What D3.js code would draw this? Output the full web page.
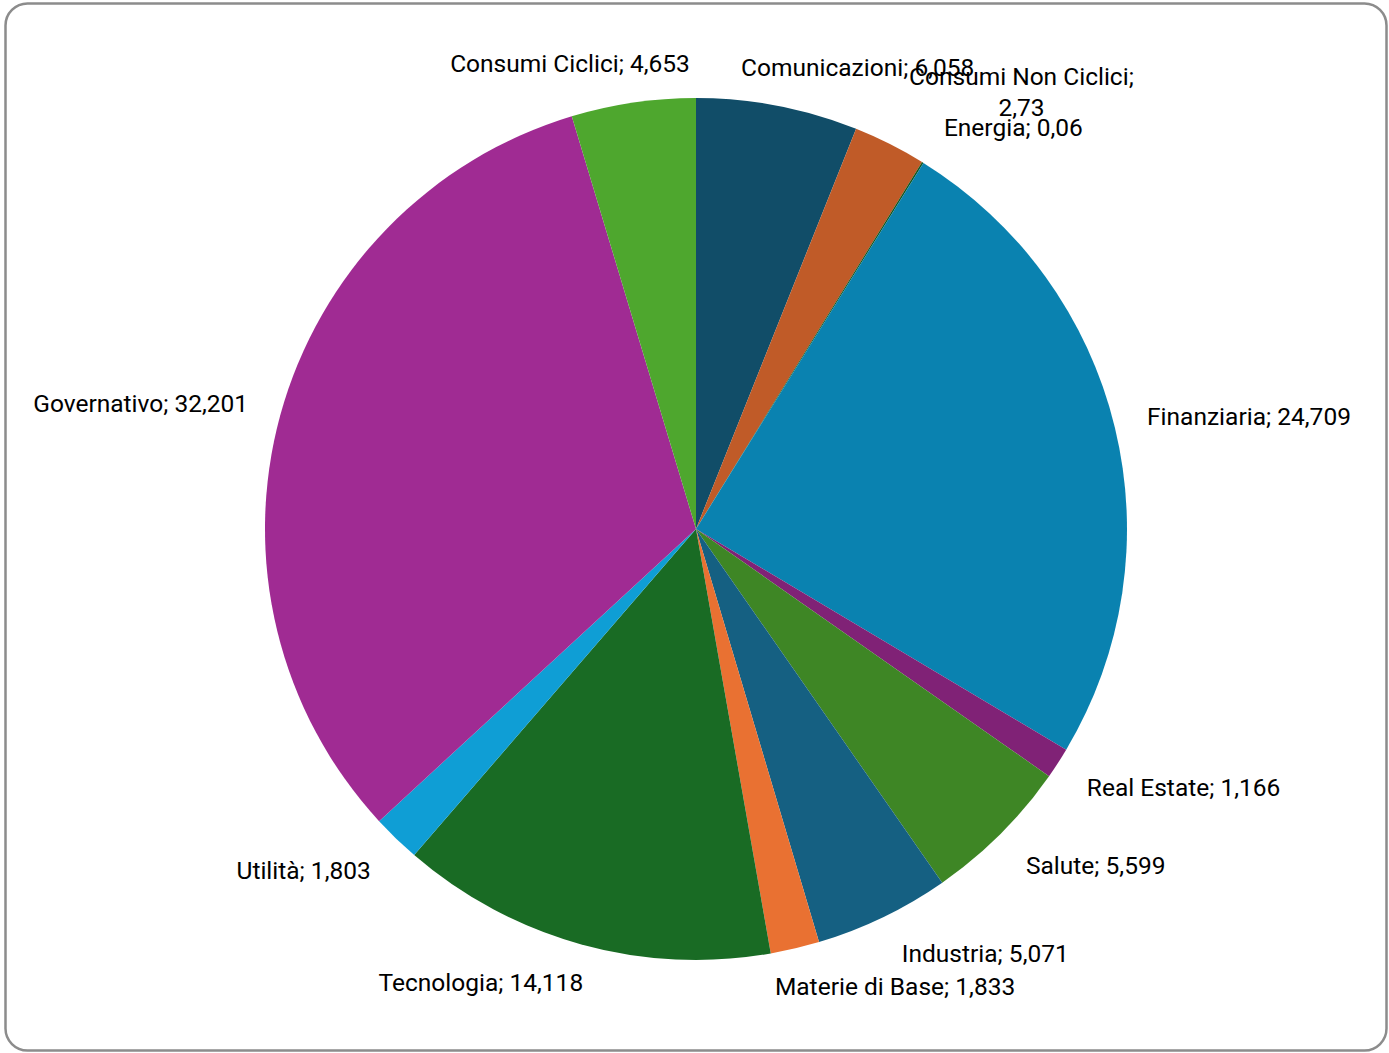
<!DOCTYPE html>
<html>
<head>
<meta charset="utf-8">
<script src="https://cdn.jsdelivr.net/npm/d3@7"></script>
<style>
  body { margin: 0; background: #ffffff; }
  .label { font-family: Roboto, "Noto Sans", sans-serif; font-size: 24.5px; fill: #000000; }
</style>
</head>
<body>
<script>
// Settori e pesi (%), in ordine orario partendo dall'alto
var sectors = ["Comunicazioni", "Consumi Non Ciclici", "Energia", "Finanziaria", "Real Estate",
  "Salute", "Industria", "Materie di Base", "Tecnologia", "Utilità", "Governativo", "Consumi Ciclici"];
var weights = [6.058, 2.73, 0.06, 24.709, 1.166, 5.599, 5.071, 1.833, 14.118, 1.803, 32.201, 4.653];
var sliceColors = ["#114d68", "#c05b28", "#14561d", "#0a82b0", "#802276", "#3e8625",
  "#156082", "#e97132", "#196b24", "#0f9ed5", "#a02b93", "#4ea72e"];

var svgWidth = 1389;
var svgHeight = 1053;

var cx = 696;
var cy = 529;
var radius = 431;

var svg = d3.select("body")
  .append("svg")
  .attr("width", svgWidth)
  .attr("height", svgHeight);

// chart area frame
svg.append("rect")
  .attr("x", 5.5)
  .attr("y", 3.5)
  .attr("width", 1381)
  .attr("height", 1047)
  .attr("rx", 22)
  .attr("ry", 22)
  .attr("fill", "#ffffff")
  .attr("stroke", "#8c8c8c")
  .attr("stroke-width", 2.5);

var chartGroup = svg.append("g")
  .attr("transform", `translate(${cx}, ${cy})`);

var pie = d3.pie()
  .sort(null)
  .value(d => d);

var arc = d3.arc()
  .innerRadius(0)
  .outerRadius(radius);

var colorScale = d3.scaleOrdinal()
  .domain(sectors)
  .range(sliceColors);

var arcs = pie(weights);

chartGroup.selectAll("path")
  .data(arcs)
  .enter()
  .append("path")
  .attr("d", arc)
  .attr("fill", (d, i) => colorScale(sectors[i]));

// italian number format (comma as decimal separator)
function fmt(v) {
  return String(v).replace(".", ",");
}

// Labels, outside end like Excel
var labelR = radius + 25;
var padX = 8;
var lineH = 31;
var maxW = 262;

function clamp(v) { return Math.max(-1, Math.min(1, v)); }

arcs.forEach(function(d, i) {
  var full = sectors[i] + "; " + fmt(weights[i]);
  var t = chartGroup.append("text").attr("class", "label");

  // measure, wrap when too wide
  t.text(full);
  var lines = [full];
  if (t.node().getComputedTextLength() > maxW) {
    lines = [sectors[i] + ";", fmt(weights[i])];
  }
  t.text(null);

  var tspans = t.selectAll("tspan")
    .data(lines)
    .enter()
    .append("tspan")
    .text(s => s);

  var w = d3.max(tspans.nodes(), n => n.getComputedTextLength()) + 2 * padX;
  var h = lines.length * lineH - 3;

  var a = (d.startAngle + d.endAngle) / 2;
  var px = labelR * Math.sin(a);
  var py = -labelR * Math.cos(a);
  var bx = px + clamp(3.2 * Math.sin(a)) * w / 2;
  var by = py - clamp(1.4 * Math.cos(a)) * h / 2;

  t.attr("text-anchor", "middle");
  tspans
    .attr("x", bx)
    .attr("y", (s, k) => by + (k - (lines.length - 1) / 2) * lineH)
    .attr("dy", "0.35em");
});
</script>
</body>
</html>
